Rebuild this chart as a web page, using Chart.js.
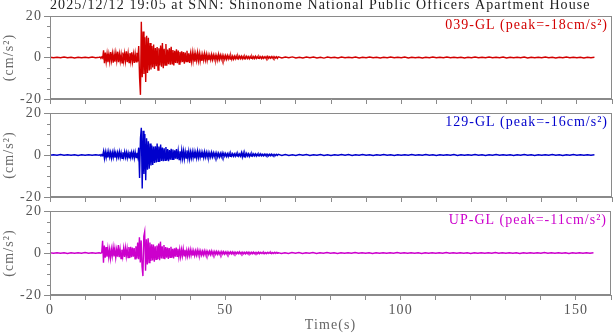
<!DOCTYPE html>
<html><head><meta charset="utf-8">
<script src="https://cdn.jsdelivr.net/npm/chart.js@4/dist/chart.umd.min.js"></script>
<style>
html,body{margin:0;padding:0;background:#fff;}
#wrap{position:relative;width:613px;height:334px;overflow:hidden;background:#fff;}
#wrap canvas{position:absolute;left:0;}
</style></head><body>
<div id="wrap">
<canvas id="c0" width="613" height="120" style="top:0px;width:613px;height:120px"></canvas>
<canvas id="c1" width="613" height="120" style="top:98px;width:613px;height:120px"></canvas>
<canvas id="c2" width="613" height="138" style="top:196px;width:613px;height:138px"></canvas>
</div>
<script>
// ---------------- DATA ----------------
const chartTitle = '2025/12/12 19:05 at SNN: Shinonome National Public Officers Apartment House';
const componentNames = ['039-GL', '129-GL', 'UP-GL'];
const peakValues = [-18, -16, -11];
const yUnit = '(cm/s²)';
const xTitle = 'Time(s)';
const xLabelTicks = [0, 50, 100, 150];
const yLabelTicks = [-20, 0, 20];

// sampling of the three record segments (seconds)
const preStart = 0, preStep = 1;              // 0 .. 14 s
const strongStart = 14.25, strongStep = 0.25; // 14.25 .. 65 s
const codaStart = 66, codaStep = 1;           // 66 .. 155 s

// 039-GL (cm/s^2)
const ewPre = [0.1,-0.1,0.1,-0.1,0.2,-0.1,0.1,-0.2,0.1,-0.1,0.1,-0.1,0.2,-0.1,0.1];
const ewStrong = [
 0.2,-0.2,0.3,-0.3,
 3.5,-2.8,2.4,-2.0,
 1.8,-2.2,1.5,-1.9,
 2.6,-1.4,1.9,-2.5,
 1.6,-2.0,2.2,-1.5,
 2.8,-2.3,1.7,-1.8,
 1.5,-2.6,2.4,-1.6,
 2.0,-1.7,3.0,-2.2,
 1.9,-2.4,2.1,-1.8,
 2.5,-2.0,1.6,-2.6,
 1.8,-2.1,2.3,-1.9,
 5.5,-9.8,-18.0,17.2,
 -9.5,12.5,-8.0,9.8,
 -11.8,10.5,-7.5,9.5,
 -6.2,7.0,-5.8,5.5,
 -4.8,6.2,-5.5,4.6,
 -4.2,5.0,-6.0,4.4,
 -3.8,5.8,-4.5,7.0,
 -5.2,4.2,-3.6,6.5,
 -4.0,3.8,-3.2,4.5,
 -3.5,5.2,-3.0,3.6,
 -3.8,3.2,-2.6,4.0,
 -2.8,3.4,-3.2,2.7,
 -2.4,3.0,-2.2,2.6,
 -3.0,2.4,-2.0,3.2,
 -2.2,2.0,-2.6,1.8,
 -1.8,2.4,-1.6,2.0,
 -2.0,1.6,-1.4,2.2,
 -1.5,1.8,-1.7,1.3,
 -1.6,1.4,-1.2,1.8,
 -1.2,1.5,-1.4,1.1,
 -1.3,1.0,-1.1,1.4,
 -1.0,1.2,-0.9,1.1,
 -1.1,0.9,-1.2,1.5,
 -0.9,1.1,-0.8,1.0,
 -1.0,0.8,-0.9,0.9,
 -0.8,0.9,-0.7,0.8,
 -0.7,0.8,-0.9,0.6,
 -0.8,0.6,-0.6,0.7,
 -0.6,0.7,-0.5,0.6,
 -0.5,0.6,-0.6,0.5,
 -0.6,0.5,-0.4,0.6,
 -0.5,0.4,-0.6,0.5,
 -0.4,0.5,-0.5,0.4,
 -0.5,0.6,-0.4,0.4,
 -0.4,0.5,-0.3,0.4,
 -0.5,0.4,-0.4,0.3,
 -0.3,0.4,-0.4,0.5,
 -0.4,0.3,-0.3,0.4,
 -0.3,0.4,-0.4,0.3,
 -0.3,0.3,-0.4,0.3
];
const ewCoda = [
 -0.2,0.2,-0.1,0.3,-0.2,0.1,-0.2,0.2,-0.1,0.2,
 -0.2,0.1,-0.3,0.2,-0.1,0.1,-0.2,0.2,-0.1,0.1,
 -0.1,0.2,-0.2,0.1,-0.1,0.2,-0.1,0.1,-0.2,0.1,
 -0.1,0.2,-0.1,0.1,-0.1,0.2,-0.2,0.1,-0.1,0.1,
 -0.2,0.1,-0.1,0.2,-0.1,0.1,-0.1,0.2,-0.1,0.1,
 -0.1,0.1,-0.2,0.1,-0.1,0.2,-0.1,0.1,-0.1,0.2,
 -0.1,0.1,-0.1,0.2,-0.2,0.1,-0.1,0.1,-0.1,0.2,
 -0.2,0.1,-0.1,0.1,-0.1,0.2,-0.1,0.1,-0.2,0.1,
 -0.1,0.2,-0.1,0.1,-0.1,0.1,-0.2,0.1,-0.1,0.1
];

// 129-GL (cm/s^2)
const nsPre = [-0.1,0.1,-0.1,0.2,-0.1,0.1,-0.1,0.1,-0.2,0.1,-0.1,0.1,-0.1,0.1,-0.1];
const nsStrong = [
 0.2,-0.2,0.2,-0.3,
 1.8,-1.6,1.5,-1.2,
 1.4,-1.2,1.6,-1.0,
 1.2,-1.5,1.3,-1.1,
 1.7,-1.3,1.0,-1.4,
 1.2,-1.0,1.5,-1.3,
 1.1,-1.6,1.3,-1.0,
 1.5,-1.1,1.2,-1.4,
 1.0,-1.3,1.6,-1.2,
 1.3,-1.0,1.2,-1.5,
 1.4,-1.2,1.1,-1.0,
 3.5,-11.0,8.0,13.0,
 -16.0,11.5,-9.0,10.0,
 -12.0,8.0,-7.0,6.5,
 -6.5,5.5,-5.0,4.5,
 -4.8,4.0,-3.8,4.2,
 -3.5,5.5,-3.0,4.0,
 -3.2,5.0,-2.8,3.6,
 -3.0,3.2,-2.5,3.8,
 -2.6,2.8,-3.0,2.4,
 -2.2,3.0,-2.0,2.6,
 -2.4,2.2,-1.8,2.8,
 -2.0,2.0,-2.2,1.8,
 -1.7,2.3,-1.6,1.9,
 -1.8,1.6,-1.5,2.2,
 -1.5,1.7,-1.8,1.4,
 -1.4,1.6,-1.3,1.5,
 -1.6,1.2,-1.4,1.8,
 -1.2,1.4,-1.1,1.3,
 -1.3,1.1,-1.2,1.5,
 -1.0,1.2,-1.0,1.1,
 -1.1,0.9,-1.0,1.2,
 -0.9,1.0,-0.8,0.9,
 -0.8,0.9,-0.9,0.8,
 -0.9,0.7,-0.8,1.0,
 -0.7,0.8,-0.6,0.7,
 -0.7,0.6,-0.7,0.8,
 -0.6,0.7,-0.5,0.6,
 -0.6,0.5,-0.6,0.7,
 -0.5,0.6,-0.5,0.5,
 -0.5,1.1,-1.0,1.0,
 -0.9,0.8,-0.6,0.7,
 -0.5,0.6,-0.7,0.5,
 -0.5,0.6,-0.4,0.5,
 -0.4,0.5,-0.5,0.4,
 -0.4,0.4,-0.3,0.5,
 -0.4,0.3,-0.4,0.4,
 -0.3,0.4,-0.3,0.3,
 -0.4,0.3,-0.3,0.4,
 -0.3,0.3,-0.3,0.3,
 -0.3,0.3,-0.2,0.3
];
const nsCoda = [
 -0.2,0.2,-0.2,0.1,-0.2,0.2,-0.1,0.2,-0.2,0.1,
 -0.1,0.2,-0.2,0.1,-0.2,0.1,-0.1,0.2,-0.1,0.2,
 -0.2,0.1,-0.1,0.2,-0.1,0.1,-0.2,0.1,-0.1,0.2,
 -0.1,0.1,-0.2,0.1,-0.1,0.1,-0.1,0.2,-0.1,0.1,
 -0.1,0.2,-0.1,0.1,-0.2,0.1,-0.1,0.1,-0.1,0.2,
 -0.2,0.1,-0.1,0.1,-0.1,0.2,-0.1,0.1,-0.2,0.1,
 -0.1,0.2,-0.1,0.1,-0.1,0.1,-0.2,0.1,-0.1,0.2,
 -0.1,0.1,-0.2,0.1,-0.1,0.1,-0.1,0.2,-0.1,0.1,
 -0.2,0.1,-0.1,0.2,-0.1,0.1,-0.1,0.1,-0.1,0.1
];

// UP-GL (cm/s^2)
const udPre = [0.1,-0.1,0.1,-0.1,0.1,-0.2,0.1,-0.1,0.1,-0.1,0.2,-0.1,0.1,-0.1,0.1];
const udStrong = [
 0.1,-0.1,0.2,5.8,
 -4.6,3.5,-2.2,2.8,
 -1.8,2.2,-2.0,1.6,
 -2.4,1.8,-1.5,2.6,
 -1.6,2.0,-2.2,1.5,
 -1.8,3.8,-2.0,1.7,
 -2.6,1.6,-1.7,2.2,
 -1.9,2.4,-1.6,2.0,
 -2.2,2.8,-2.4,3.0,
 -2.0,2.6,-1.8,2.4,
 -2.8,3.2,-2.6,5.0,
 -3.0,7.5,-4.5,6.0,
 -6.5,-11.0,8.0,10.2,
 -8.5,6.5,-5.5,7.0,
 -4.5,5.0,-3.8,4.2,
 -3.5,4.0,-4.2,3.2,
 -3.0,3.6,-2.8,4.5,
 -3.4,5.4,-2.6,3.2,
 -2.4,3.8,-3.0,2.8,
 -2.2,2.6,-2.8,2.4,
 -2.0,3.0,-2.2,2.0,
 -2.6,2.2,-1.8,2.6,
 -1.6,2.0,-1.9,1.7,
 -1.8,1.6,-1.4,2.0,
 -1.3,1.5,-1.6,1.2,
 -1.5,1.3,-1.2,1.6,
 -1.1,1.2,-1.3,1.0,
 -1.2,1.0,-1.0,1.3,
 -0.9,1.1,-1.0,0.9,
 -1.0,0.8,-0.9,1.0,
 -0.8,0.9,-0.8,0.7,
 -0.7,0.8,-0.7,0.9,
 -0.8,0.6,-0.7,0.7,
 -0.6,0.7,-0.6,0.6,
 -0.6,0.5,-0.7,0.6,
 -0.5,0.6,-0.5,0.5,
 -0.5,0.5,-0.6,0.4,
 -0.4,0.5,-0.4,0.5,
 -0.5,0.4,-0.4,0.4,
 -0.4,0.4,-0.3,0.5,
 -0.4,0.3,-0.4,0.4,
 -0.4,0.3,-0.4,0.4,
 -0.3,0.4,-0.3,0.3,
 -0.4,0.3,-0.3,0.4,
 -0.3,0.3,-0.3,0.3,
 -0.3,0.4,-0.3,0.3,
 -0.2,0.3,-0.3,0.3,
 -0.3,0.2,-0.3,0.3,
 -0.2,0.3,-0.2,0.3,
 -0.3,0.2,-0.2,0.3,
 -0.2,0.3,-0.2,0.2
];
const udCoda = [
 -0.2,0.1,-0.2,0.2,-0.1,0.2,-0.2,0.1,-0.1,0.2,
 -0.2,0.1,-0.1,0.2,-0.1,0.1,-0.2,0.1,-0.1,0.1,
 -0.1,0.2,-0.1,0.1,-0.1,0.1,-0.2,0.1,-0.1,0.1,
 -0.1,0.1,-0.1,0.2,-0.1,0.1,-0.1,0.1,-0.1,0.1,
 -0.2,0.1,-0.1,0.1,-0.1,0.1,-0.1,0.2,-0.1,0.1,
 -0.1,0.1,-0.1,0.1,-0.2,0.1,-0.1,0.1,-0.1,0.1,
 -0.1,0.2,-0.1,0.1,-0.1,0.1,-0.1,0.1,-0.2,0.1,
 -0.1,0.1,-0.1,0.1,-0.1,0.2,-0.1,0.1,-0.1,0.1,
 -0.1,0.1,-0.2,0.1,-0.1,0.1,-0.1,0.1,-0.1,0.1
];

// ---------------- BUILD ----------------
function segment(start, step, values) {
  return values.map((v, i) => ({ x: +(start + i * step).toFixed(2), y: v }));
}
function record(pre, strong, coda) {
  return [].concat(segment(preStart, preStep, pre),
                   segment(strongStart, strongStep, strong),
                   segment(codaStart, codaStep, coda));
}
const series = [record(ewPre, ewStrong, ewCoda), record(nsPre, nsStrong, nsCoda), record(udPre, udStrong, udCoda)];

const FONT = 'Liberation Serif';
const traceColors = ['#d20000', '#0000cc', '#cc00cc'];
const axisColor = '#8a8a8a';
const tickTextColor = '#555';

const panelLayout = [
  { id: 'c0', padTop: 0, xHeight: 21, title: true, xLabels: false },
  { id: 'c1', padTop: 15, xHeight: 21, title: false, xLabels: false },
  { id: 'c2', padTop: 15, xHeight: 39, title: false, xLabels: true }
];

const spacingPlugin = { id: 'spacing', beforeDraw(chart) { chart.ctx.letterSpacing = '1.1px'; } };

function framePlugin(idx) {
  return {
    id: 'frame' + idx,
    afterDraw(chart) {
      const { ctx, chartArea: a } = chart;
      const ys = chart.scales.y;
      ctx.save();
      ctx.strokeStyle = axisColor;
      ctx.lineWidth = 1;
      const l = Math.round(a.left) + 0.5, r = Math.round(a.right) - 0.5;
      const t = Math.round(a.top) + 0.5, b = Math.round(a.bottom) - 0.5;
      ctx.strokeRect(l, t, r - l, b - t);
      // minor y ticks every 5
      ctx.beginPath();
      for (let v = ys.min; v <= ys.max; v += 5) {
        if (yLabelTicks.includes(v)) continue;
        const y = Math.round(ys.getPixelForValue(v)) + 0.5;
        ctx.moveTo(a.left - 3, y); ctx.lineTo(a.left, y);
      }
      ctx.stroke();
      // component label
      ctx.letterSpacing = '1px';
      ctx.font = '14px "' + FONT + '"';
      ctx.fillStyle = traceColors[idx];
      ctx.textAlign = 'right';
      ctx.textBaseline = 'alphabetic';
      ctx.fillText(componentNames[idx] + ' (peak=' + peakValues[idx] + 'cm/s²)', a.right - 4, a.top + 12.5);
      ctx.restore();
    }
  };
}

panelLayout.forEach((p, idx) => {
  new Chart(document.getElementById(p.id), {
    type: 'line',
    data: {
      datasets: [{
        label: componentNames[idx],
        data: series[idx],
        borderColor: traceColors[idx],
        borderWidth: 1.4,
        pointRadius: 0,
        fill: false,
        tension: 0
      }]
    },
    options: {
      responsive: false,
      animation: false,
      events: [],
      layout: { padding: { top: p.padTop, left: 0, right: 1, bottom: 0 } },
      plugins: {
        legend: { display: false },
        tooltip: { enabled: false },
        title: {
          display: p.title,
          text: chartTitle,
          align: 'start',
          fullSize: false,
          color: '#222',
          font: { family: FONT, size: 14, weight: 'normal', lineHeight: 0.8 },
          padding: { top: 0, bottom: 4.8 }
        }
      },
      scales: {
        x: {
          type: 'linear', min: 0, max: 160,
          afterFit(s) { s.height = p.xHeight; },
          ticks: {
            display: p.xLabels, stepSize: 10, autoSkip: false, maxRotation: 0, padding: 2,
            color: tickTextColor, font: { family: FONT, size: 14 },
            callback: v => xLabelTicks.includes(v) ? String(v) : ''
          },
          grid: { drawOnChartArea: false, drawTicks: true, tickLength: 5, color: axisColor },
          border: { color: axisColor },
          title: {
            display: p.xLabels, text: xTitle, color: '#666',
            font: { family: FONT, size: 14 }, padding: { top: 0, bottom: 0 }
          }
        },
        y: {
          min: -20, max: 20,
          afterFit(s) { s.width = 50; },
          ticks: {
            stepSize: 20, padding: 2, color: tickTextColor, font: { family: FONT, size: 14 },
            callback: v => yLabelTicks.includes(v) ? String(v) : ''
          },
          grid: { drawOnChartArea: false, drawTicks: true, tickLength: 6, color: axisColor },
          border: { color: axisColor },
          title: {
            display: true, text: yUnit, color: '#666',
            font: { family: FONT, size: 14 }, padding: { top: 1, bottom: 0 }
          }
        }
      }
    },
    plugins: [spacingPlugin, framePlugin(idx)]
  });
});
</script>
</body></html>
